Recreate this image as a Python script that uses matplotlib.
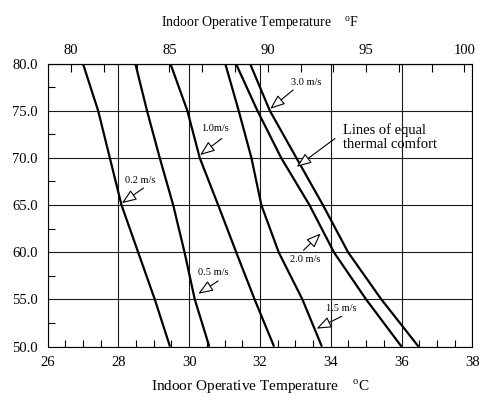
import matplotlib
matplotlib.use("Agg")
import matplotlib.pyplot as plt
from matplotlib.ticker import MultipleLocator, AutoMinorLocator, FormatStrFormatter

plt.rcParams["font.family"] = ["Liberation Serif", "DejaVu Serif"]
plt.rcParams["mathtext.fontset"] = "custom"
plt.rcParams["mathtext.rm"] = "Liberation Serif"

# y-axis levels where the curves were read
niveaux = [80, 75, 70, 65, 60, 55, 50]

# operative temperature (°C) of each line of equal thermal comfort
courbes = {
    "0.2 m/s": [27.00, 27.43, 27.76, 28.09, 28.56, 29.03, 29.46],
    "0.5 m/s": [28.48, 28.81, 29.17, 29.55, 29.87, 30.16, 30.57],
    "1.0m/s": [29.47, 29.95, 30.30, 30.82, 31.33, 31.85, 32.40],
    "1.5 m/s": [31.02, 31.40, 31.76, 32.04, 32.53, 33.20, 33.75],
    "2.0 m/s": [31.32, 31.93, 32.60, 33.40, 34.09, 35.00, 36.00],
    "3.0 m/s": [31.72, 32.28, 33.03, 33.78, 34.49, 35.43, 36.48],
}

# label text position, arrow tail, arrow tip (data coords)
etiquettes = {
    "0.2 m/s": ((28.61, 67.6), (28.71, 66.8), (28.10, 65.2)),
    "0.5 m/s": ((30.68, 57.9), (30.82, 56.95), (30.26, 55.6)),
    "1.0m/s": ((30.73, 73.1), (30.92, 72.05), (30.31, 70.3)),
    "1.5 m/s": ((34.31, 54.06), (34.31, 53.2), (33.60, 51.9)),
    "2.0 m/s": ((33.27, 59.2), (33.23, 60.2), (33.72, 62.0)),
    "3.0 m/s": ((33.31, 78.0), (32.94, 77.2), (32.29, 75.2)),
}

fleche = dict(arrowstyle="-|>,head_length=0.9,head_width=0.35",
              fc="white", ec="black", lw=0.8, shrinkA=0, shrinkB=0)

fig = plt.figure(figsize=(4.8, 3.97), dpi=100)
ax = fig.add_axes([0.099, 0.127, 0.885, 0.713])

for nom, temps in courbes.items():
    ax.plot(temps, niveaux, color="black", lw=1.6, solid_capstyle="butt")

for nom, (txt, queue, pointe) in etiquettes.items():
    ax.text(txt[0], txt[1], nom, fontsize=7.5, ha="center", va="center")
    ax.annotate("", xy=pointe, xytext=queue, arrowprops=fleche)

ax.text(34.36, 72.2, "Lines of equal\nthermal comfort", fontsize=10.5,
        ha="left", va="center", linespacing=1.05)
ax.annotate("", xy=(33.04, 69.05), xytext=(34.12, 72.05), arrowprops=fleche)

ax.set_xlim(26, 38)
ax.set_ylim(50, 80)
ax.xaxis.set_major_locator(MultipleLocator(2))
ax.xaxis.set_minor_locator(MultipleLocator(0.5))
ax.yaxis.set_major_locator(MultipleLocator(5))
ax.yaxis.set_minor_locator(MultipleLocator(2.5))
ax.yaxis.set_major_formatter(FormatStrFormatter("%.1f"))
ax.grid(True, which="major", color="0.1", lw=0.8)
ax.tick_params(which="both", direction="in", labelsize=10.5, top=False, right=False)
ax.tick_params(which="major", length=0, pad=7)
ax.tick_params(which="minor", length=5, width=0.8)
for s in ax.spines.values():
    s.set_linewidth(0.8)

ax.set_xlabel("Indoor Operative Temperature    $^{\\mathrm{o}}$C", fontsize=11, labelpad=6)

haut = ax.secondary_xaxis("top", functions=(lambda c: c * 9 / 5 + 32,
                                            lambda f: (f - 32) * 5 / 9))
haut.set_xticks([80, 85, 90, 95, 100])
haut.xaxis.set_minor_locator(AutoMinorLocator(3))
haut.tick_params(which="both", direction="in", labelsize=10.5, pad=5)
haut.tick_params(which="major", length=6, width=0.8)
haut.tick_params(which="minor", length=6, width=0.8)
haut.set_xlabel("Indoor Operative Temperature    $^{\\mathrm{o}}$F", fontsize=10, labelpad=12)

fig.savefig("out.png", dpi=100)
